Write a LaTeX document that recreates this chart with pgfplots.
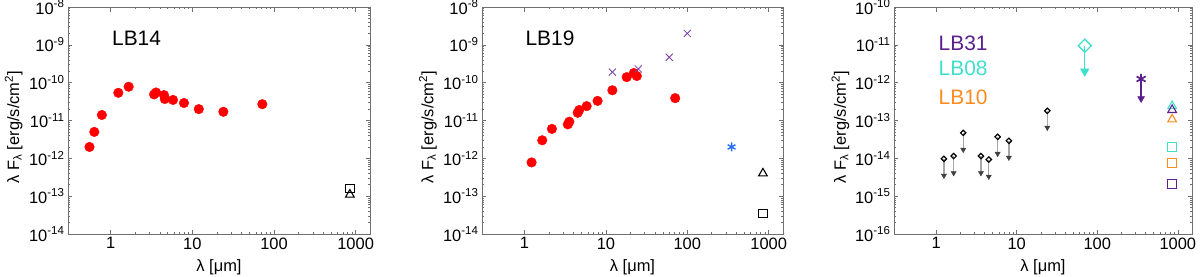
\documentclass[border=0pt]{standalone}
\usepackage{pgfplots}
\pgfplotsset{compat=1.18}
\usepackage{fontspec}
\setmainfont{Liberation Sans}
\definecolor{lbred}{HTML}{FF0000}
\definecolor{xpurple}{HTML}{7A3FA8}
\definecolor{lbpurple}{HTML}{5B1F8E}
\definecolor{lbcyan}{HTML}{3FE0CB}
\definecolor{lborange}{HTML}{FF8A1E}
\definecolor{lbblue}{HTML}{2A6FF0}
\definecolor{axgray}{HTML}{707070}
\newcommand{\tfont}{\fontsize{16.5}{19}\selectfont}
\pgfplotsset{
  every axis/.append style={
    scale only axis, anchor=south west,
    axis line style={axgray, line width=0.8bp},
    every tick/.append style={axgray, line width=0.6bp},
    major tick length=4.5bp, minor tick length=2.2bp,
    tick align=inside, xtick pos=both, ytick pos=both,
    clip=false,
  },
}
\begin{document}
\begin{tikzpicture}
\path[use as bounding box] (0,0) rectangle (1200bp,277bp);
% ---------------- Panel 1: LB14
\begin{axis}[xmode=log, ymode=log, at={(68bp,43bp)}, width=302bp, height=227bp,
  xmin=0.3, xmax=1500, ymin=1e-14, ymax=1e-8,
  tick label style={font=\tfont},
  xtick={1,10,100,1000}, xticklabels={1,10,100,1000},
  ytick={1e-14,1e-13,1e-12,1e-11,1e-10,1e-9,1e-8},
  yticklabels={10\textsuperscript{-14},10\textsuperscript{-13},10\textsuperscript{-12},10\textsuperscript{-11},10\textsuperscript{-10},10\textsuperscript{-9},10\textsuperscript{-8}},
  xlabel={λ [μm]},
  ylabel={λ F\textsubscript{λ} [erg/s/cm\textsuperscript{2}]},
  xlabel style={font=\tfont, at={(axis description cs:0.5,-0.145)}, anchor=center},
  ylabel style={font=\tfont, at={(axis description cs:-0.18,0.47)}, anchor=center}]
\addplot[only marks, mark=*, mark size=4.8bp, color=lbred] coordinates {
 (0.55,2.0e-12) (0.63,5.0e-12) (0.78,1.4e-11) (1.24,5.4e-11) (1.66,7.8e-11)
 (3.4,4.9e-11) (3.6,5.5e-11) (4.5,4.7e-11) (4.6,3.7e-11) (5.8,3.5e-11)
 (7.9,2.9e-11) (12,2.0e-11) (24,1.7e-11) (72,2.7e-11)};
\addplot[only marks, mark=square, mark size=4.2bp, line width=1.1bp, color=black] coordinates {(850,1.6e-13)};
\addplot[only marks, mark=triangle, mark size=5bp, line width=1.1bp, color=black] coordinates {(850,1.1e-13)};
\node[font=\fontsize{21}{23}\selectfont] at (axis description cs:0.227,0.863) {LB14};
\end{axis}
% ---------------- Panel 2: LB19
\begin{axis}[xmode=log, ymode=log, at={(482bp,43bp)}, width=301bp, height=227bp,
  xmin=0.3, xmax=1500, ymin=1e-14, ymax=1e-8,
  tick label style={font=\tfont},
  xtick={1,10,100,1000}, xticklabels={1,10,100,1000},
  ytick={1e-14,1e-13,1e-12,1e-11,1e-10,1e-9,1e-8},
  yticklabels={10\textsuperscript{-14},10\textsuperscript{-13},10\textsuperscript{-12},10\textsuperscript{-11},10\textsuperscript{-10},10\textsuperscript{-9},10\textsuperscript{-8}},
  xlabel={λ [μm]},
  ylabel={λ F\textsubscript{λ} [erg/s/cm\textsuperscript{2}]},
  xlabel style={font=\tfont, at={(axis description cs:0.5,-0.145)}, anchor=center},
  ylabel style={font=\tfont, at={(axis description cs:-0.18,0.47)}, anchor=center}]
\addplot[only marks, mark=*, mark size=4.8bp, color=lbred] coordinates {
 (1.22,7.8e-13) (1.65,3.0e-12) (2.17,6.0e-12) (3.4,7.9e-12) (3.55,9.3e-12)
 (4.5,1.6e-11) (4.7,1.9e-11) (5.8,2.4e-11) (7.9,3.3e-11) (12,6.3e-11)
 (18,1.4e-10) (22,1.8e-10) (24,1.5e-10) (71,3.9e-11)};
\addplot[only marks, mark=x, mark size=5bp, line width=0.8bp, color=xpurple] coordinates {
 (12,1.9e-10) (25,2.3e-10) (60,4.7e-10) (100,2.0e-9)};
\addplot[only marks, mark=asterisk, mark size=4.5bp, line width=1.4bp, color=lbblue] coordinates {(350,2.0e-12)};
\addplot[only marks, mark=triangle, mark size=5bp, line width=1.1bp, color=black] coordinates {(850,4.0e-13)};
\addplot[only marks, mark=square, mark size=4.2bp, line width=1.1bp, color=black] coordinates {(850,3.5e-14)};
\node[font=\fontsize{21}{23}\selectfont] at (axis description cs:0.226,0.863) {LB19};
\end{axis}
% ---------------- Panel 3: LB31, LB08, LB10
\begin{axis}[xmode=log, ymode=log, at={(894bp,43bp)}, width=298bp, height=227bp,
  xmin=0.3, xmax=1500, ymin=1e-16, ymax=1e-10,
  tick label style={font=\tfont},
  xtick={1,10,100,1000}, xticklabels={1,10,100,1000},
  ytick={1e-16,1e-15,1e-14,1e-13,1e-12,1e-11,1e-10},
  yticklabels={10\textsuperscript{-16},10\textsuperscript{-15},10\textsuperscript{-14},10\textsuperscript{-13},10\textsuperscript{-12},10\textsuperscript{-11},10\textsuperscript{-10}},
  xlabel={λ [μm]},
  ylabel={λ F\textsubscript{λ} [erg/s/cm\textsuperscript{2}]},
  xlabel style={font=\tfont, at={(axis description cs:0.5,-0.145)}, anchor=center},
  ylabel style={font=\tfont, at={(axis description cs:-0.18,0.47)}, anchor=center}]
% upper-limit arrows (black)
\addplot[gray!70, line width=1.4bp, unbounded coords=jump] coordinates {
 (1.25,9.7e-15) (1.25,3.5e-15) (1.25,nan)
 (1.65,1.15e-14) (1.65,4.1e-15) (1.65,nan)
 (2.17,4.7e-14) (2.17,1.7e-14) (2.17,nan)
 (3.6,1.15e-14) (3.6,4.1e-15) (3.6,nan)
 (4.5,9.3e-15) (4.5,3.3e-15) (4.5,nan)
 (5.8,3.7e-14) (5.8,1.33e-14) (5.8,nan)
 (8.0,2.9e-14) (8.0,1.05e-14) (8.0,nan)
 (24,1.8e-13) (24,6.5e-14)};
\addplot[only marks, mark=triangle*, mark size=3bp, color=black!75, mark options={rotate=180}] coordinates {
 (1.25,3.5e-15) (1.65,4.1e-15) (2.17,1.7e-14) (3.6,4.1e-15) (4.5,3.3e-15)
 (5.8,1.33e-14) (8.0,1.05e-14) (24,6.5e-14)};
\addplot[only marks, mark=square, mark size=1.9bp, line width=1.2bp, color=black, mark options={rotate=45, fill=white}] coordinates {
 (1.25,9.7e-15) (1.65,1.15e-14) (2.17,4.7e-14) (3.6,1.15e-14) (4.5,9.3e-15)
 (5.8,3.7e-14) (8.0,2.9e-14) (24,1.8e-13)};
% LB08 (cyan) upper limit at 70 micron
\addplot[lbcyan, line width=1.2bp] coordinates {(70,9.5e-12) (70,2.0e-12)};
\addplot[only marks, mark=triangle*, mark size=5bp, color=lbcyan, mark options={rotate=180}] coordinates {(70,2.0e-12)};
\addplot[only marks, mark=square, mark size=4.6bp, line width=1.3bp, color=lbcyan, mark options={rotate=45, fill=white}] coordinates {(70,9.5e-12)};
% LB31 (purple) upper limit at 350 micron
\addplot[lbpurple, line width=1.2bp] coordinates {(350,1.25e-12) (350,3.8e-13)};
\addplot[only marks, mark=triangle*, mark size=4bp, color=lbpurple, mark options={rotate=180}] coordinates {(350,3.8e-13)};
\addplot[only marks, mark=asterisk, mark size=5.2bp, line width=1.7bp, color=lbpurple] coordinates {(350,1.25e-12)};
% 850 micron points
\addplot[only marks, mark=triangle, mark size=5bp, line width=1.1bp, color=lbcyan] coordinates {(850,2.4e-13)};
\addplot[only marks, mark=triangle, mark size=5bp, line width=1.1bp, color=lbpurple] coordinates {(850,1.9e-13)};
\addplot[only marks, mark=triangle, mark size=5bp, line width=1.1bp, color=lborange] coordinates {(850,1.07e-13)};
\addplot[only marks, mark=square, mark size=4.2bp, line width=1.1bp, color=lbcyan] coordinates {(850,2.0e-14)};
\addplot[only marks, mark=square, mark size=4.2bp, line width=1.1bp, color=lborange] coordinates {(850,7.6e-15)};
\addplot[only marks, mark=square, mark size=4.2bp, line width=1.1bp, color=lbpurple] coordinates {(850,2.1e-15)};
\node[font=\fontsize{21}{23}\selectfont, text=lbpurple] at (axis description cs:0.232,0.841) {LB31};
\node[font=\fontsize{21}{23}\selectfont, text=lbcyan] at (axis description cs:0.232,0.731) {LB08};
\node[font=\fontsize{21}{23}\selectfont, text=lborange] at (axis description cs:0.232,0.603) {LB10};
\end{axis}
\end{tikzpicture}
\end{document}
